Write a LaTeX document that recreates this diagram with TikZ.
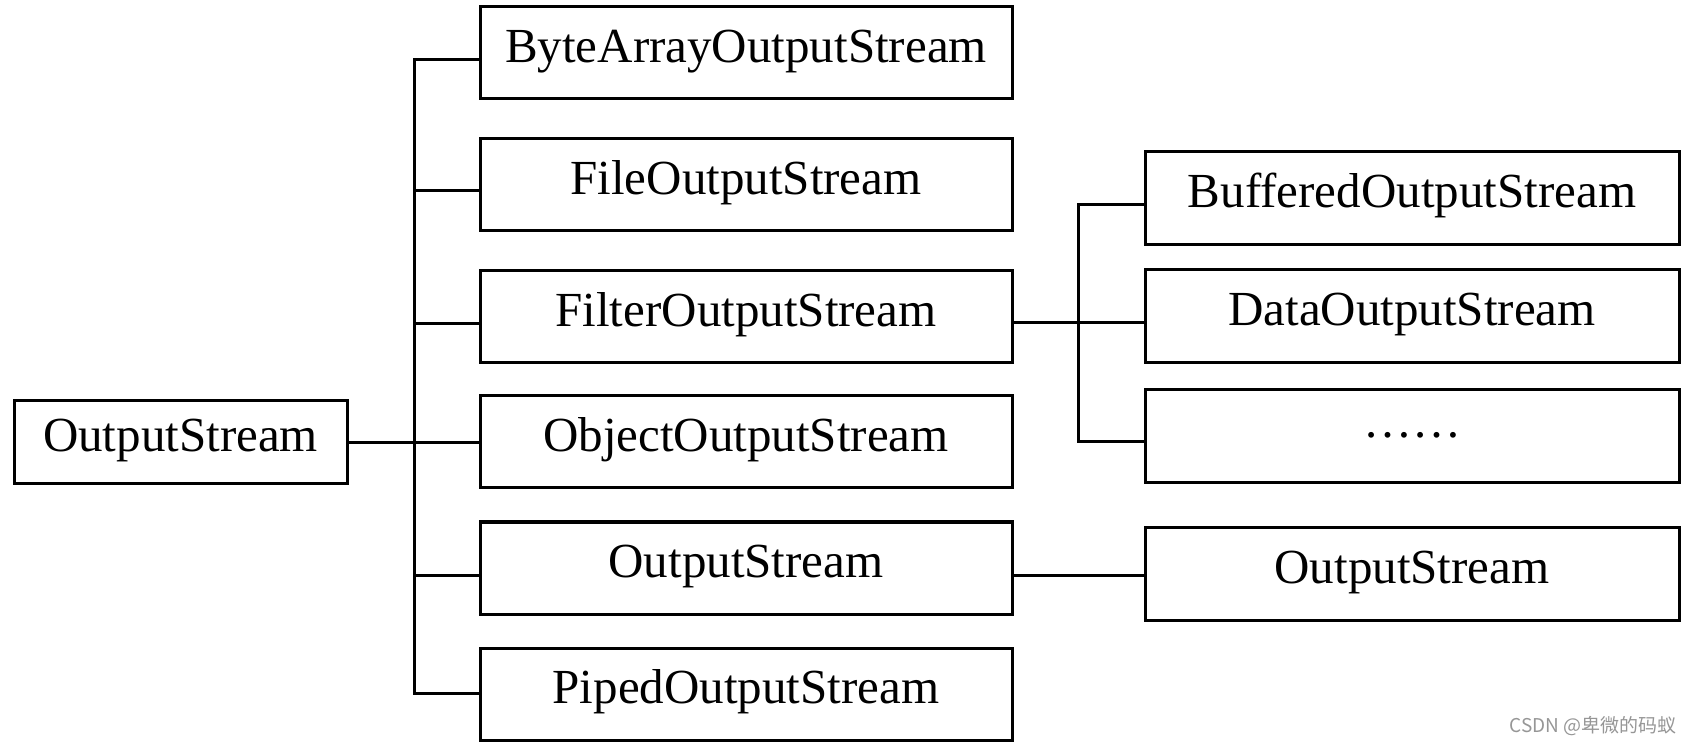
\documentclass[tikz,border=0pt]{standalone}
\usepackage{fontspec}
\setmainfont{Liberation Serif}
\newfontfamily\cjkwm{Noto Sans CJK SC}
\definecolor{wmgray}{RGB}{150,150,150}
\begin{document}
\begin{tikzpicture}[x=0.5pt,y=-0.5pt,
  box/.style={draw=black, line width=1.5pt, inner sep=0pt, outer sep=0pt,
    font=\fontsize{24.5pt}{28pt}\selectfont, text height=0.97em, text depth=0.03em},
  midbox/.style={box, minimum width=266pt, minimum height=46pt},
  rightbox/.style={box, minimum width=267pt, minimum height=46.5pt},
  conn/.style={line width=1.5pt, line cap=rect}]
\useasboundingbox (0,0) rectangle (1694,743);
% root
\node[box, minimum width=166.5pt, minimum height=41.5pt] (root) at (180.5,442.5) {OutputStream};
% middle column
\node[midbox] (b1) at (746,53) {ByteArrayOutputStream};
\node[midbox] (b2) at (746,185) {FileOutputStream};
\node[midbox] (b3) at (746,317) {FilterOutputStream};
\node[midbox] (b4) at (746,442) {ObjectOutputStream};
\node[midbox] (b5) at (746,568) {OutputStream};
\node[midbox] (b6) at (746,694) {PipedOutputStream};
% right column
\node[rightbox] (r1) at (1412,198.5) {BufferedOutputStream};
\node[rightbox] (r2) at (1412,316.5) {DataOutputStream};
\node[rightbox] (r3) at (1412,436) {\raisebox{0.17em}{……}};
\node[rightbox] (r4) at (1412,574) {OutputStream};
% trunk 1
\coordinate (t1) at (414,59.5);
\coordinate (t2) at (414,191);
\coordinate (t3) at (414,324);
\coordinate (t4) at (414,443);
\coordinate (t5) at (414,575);
\coordinate (t6) at (414,693);
\draw[conn] (t1) -- (t6);
\draw[conn] (root.east |- t4) -- (t4);
\foreach \i in {1,...,6} {\draw[conn] (t\i) -- (b\i.west |- t\i);}
% trunk 2
\coordinate (s1) at (1078,205);
\coordinate (s2) at (1078,323);
\coordinate (s3) at (1078,442);
\draw[conn] (s1) -- (s3);
\draw[conn] (b3.east |- s2) -- (s2);
\foreach \i in {1,2,3} {\draw[conn] (s\i) -- (r\i.west |- s\i);}
% output stream link
\coordinate (o1) at (1012,575);
\draw[conn] (b5.east |- o1) -- (r4.west |- o1);
% watermark
\node[text=wmgray, font=\cjkwm\fontsize{9.5pt}{11pt}\selectfont, inner sep=0pt] (wm) at (1593,726) {CSDN @卑微的码蚁};
\end{tikzpicture}
\end{document}
